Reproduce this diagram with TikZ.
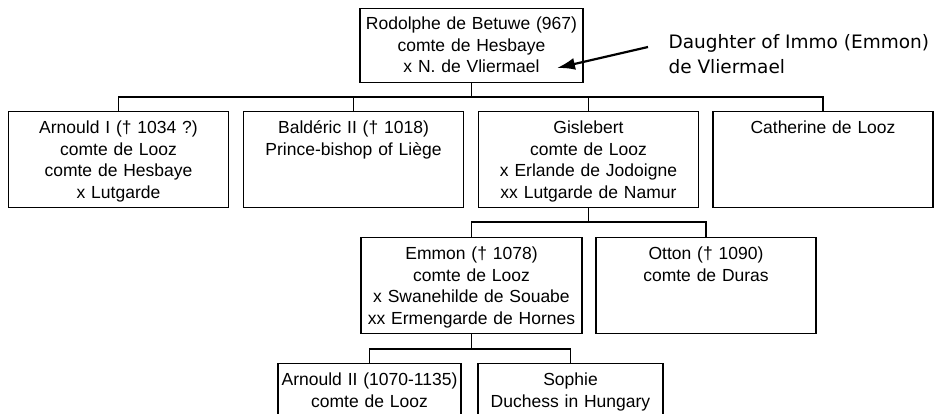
\documentclass[tikz,border=0pt]{standalone}
\usepackage{fontspec}
\setmainfont{Liberation Sans}
\newfontfamily\notefont{DejaVu Sans}
\usetikzlibrary{arrows.meta}

\begin{document}
\begin{tikzpicture}[x=1pt,y=-1pt,line width=1.1pt,
    person/.style={draw,rectangle,anchor=north,align=center,
      text width=216pt,inner xsep=2pt,inner ysep=0pt,
      text height=22pt,text depth=74pt,
      font=\fontsize{17.5}{21.5}\selectfont}]
  \useasboundingbox (0,0) rectangle (943,414);
  % Rodolphe and the note about his wife
  \node[person,text width=219pt,text height=21pt,text depth=53pt] (rodolphe) at (471.5,8)
    {Rodolphe de Betuwe (967)\\comte de Hesbaye\\x N. de Vliermael};
  \node[anchor=north west,align=left,inner sep=0pt,
    font=\notefont\fontsize{18.5}{25}\selectfont] (note) at (668,34)
    {Daughter of Immo (Emmon)\\de Vliermael};
  \coordinate (tail) at (648,47);
  \coordinate (head) at (557,68);
  \draw[-{Latex[length=18pt,width=12pt]},line width=2.2pt] (tail) -- (head);

  % children
  \node[person] (arnould) at (118.5,111)
    {Arnould I († 1034 ?)\\comte de Looz\\comte de Hesbaye\\x Lutgarde};
  \node[person] (balderic) at (353.5,111)
    {Baldéric II († 1018)\\Prince-bishop of Liège};
  \node[person] (gislebert) at (588.5,111)
    {Gislebert\\comte de Looz\\x Erlande de Jodoigne\\xx Lutgarde de Namur};
  \node[person] (catherine) at (823,111) {Catherine de Looz};

  % grandchildren
  \node[person,text width=217pt] (emmon) at (471.5,237)
    {Emmon († 1078)\\comte de Looz\\x Swanehilde de Souabe\\xx Ermengarde de Hornes};
  \node[person] (otton) at (706,237) {Otton († 1090)\\comte de Duras};

  % great-grandchildren
  \node[person,text width=179pt] (arnouldii) at (369.5,363)
    {Arnould II (1070-1135)\\comte de Looz};
  \node[person,text width=181pt] (sophie) at (570.5,363)
    {Sophie\\Duchess in Hungary};

  % tree lines
  \coordinate (bus1) at (471.5,97);
  \draw (rodolphe.south) -- (bus1);
  \foreach \c in {arnould,balderic,gislebert,catherine}
    \draw (bus1) -| (\c.north);
  \coordinate (bus2) at (588.5,222);
  \draw (gislebert.south) -- (bus2);
  \foreach \c in {emmon,otton}
    \draw (bus2) -| (\c.north);
  \coordinate (bus3) at (471.5,349);
  \draw (emmon.south) -- (bus3);
  \foreach \c in {arnouldii,sophie}
    \draw (bus3) -| (\c.north);
\end{tikzpicture}
\end{document}
